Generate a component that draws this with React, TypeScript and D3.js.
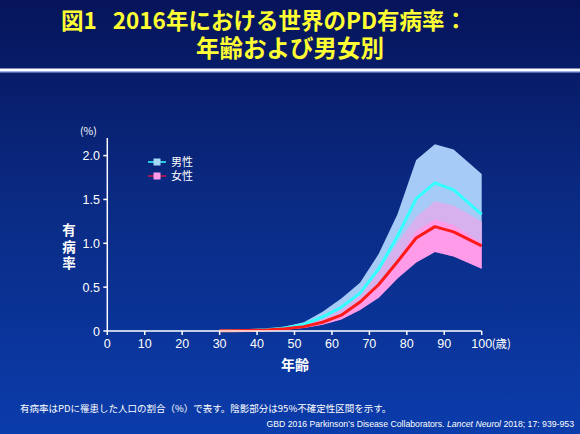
import React from "react";
import * as d3 from "d3";

const ages = [30, 32.5, 37.5, 42.5, 47.5, 52.5, 57.5, 62.5, 67.5, 72.5, 77.5, 82.5, 87.5, 92.5, 100];
const maleMean = [0.002, 0.003, 0.006, 0.014, 0.035, 0.075, 0.16, 0.27, 0.43, 0.71, 1.08, 1.51, 1.69, 1.61, 1.33];
const maleLow = [0.001, 0.002, 0.004, 0.009, 0.024, 0.05, 0.11, 0.19, 0.32, 0.53, 0.82, 1.14, 1.27, 1.21, 1.0];
const maleHigh = [0.003, 0.005, 0.009, 0.02, 0.05, 0.1, 0.22, 0.37, 0.55, 0.88, 1.33, 1.95, 2.13, 2.07, 1.79];
const femaleMean = [0.002, 0.003, 0.006, 0.012, 0.025, 0.05, 0.1, 0.18, 0.33, 0.53, 0.79, 1.06, 1.19, 1.13, 0.97];
const femaleLow = [0.001, 0.002, 0.004, 0.008, 0.017, 0.035, 0.07, 0.13, 0.24, 0.38, 0.6, 0.78, 0.9, 0.85, 0.71];
const femaleHigh = [0.003, 0.004, 0.008, 0.016, 0.034, 0.07, 0.13, 0.25, 0.44, 0.68, 1.0, 1.3, 1.48, 1.43, 1.25];

const xTicks = [0, 10, 20, 30, 40, 50, 60, 70, 80, 90, 100];
const yTicks = [0, 0.5, 1.0, 1.5, 2.0];
const yTickLabels = ["0", "0.5", "1.0", "1.5", "2.0"];
const legendLabels = ["男性", "女性"];

const titleFig = "図1";
const titleMain = "2016年における世界のPD有病率：";
const titleSub = "年齢および男女別";
const yTitleChars = ["有", "病", "率"];
const footnote = "有病率はPDに罹患した人口の割合（%）で表す。陰影部分は95%不確定性区間を示す。";

export default function App() {
  const x = d3.scaleLinear().domain([0, 100]).range([107.3, 481.7]);
  const y = d3.scaleLinear().domain([0, 2]).range([331, 155.6]);
  const idx = ages.map((_, i) => i);

  const area = (lo: number[], hi: number[]) =>
    d3.area<number>().x((i) => x(ages[i])).y0((i) => y(lo[i])).y1((i) => y(hi[i]))(idx) || "";
  const line = (v: number[]) =>
    d3.line<number>().x((i) => x(ages[i])).y((i) => y(v[i]))(idx) || "";

  const fontJP = "'Noto Sans CJK JP', 'Liberation Sans', sans-serif";
  const fontLat = "'Liberation Sans', Arial, sans-serif";

  const maleArea = area(maleLow, maleHigh);
  const femaleArea = area(femaleLow, femaleHigh);

  return (
    <svg
      width={580}
      height={434}
      style={{ position: "fixed", left: 0, top: 0, display: "block" }}
      xmlns="http://www.w3.org/2000/svg"
    >
      <defs>
        <linearGradient id="bg" x1="0" y1="0" x2="0" y2="1">
          <stop offset="0" stopColor="#06145a" />
          <stop offset="0.45" stopColor="#0a2a82" />
          <stop offset="1" stopColor="#0b3cab" />
        </linearGradient>
      </defs>
      <rect x={0} y={0} width={580} height={434} fill="url(#bg)" />

      {/* title */}
      <text
        fill="#ffff33"
        fontFamily={fontJP}
        fontWeight="bold"
        fontSize={22.5}
        textAnchor="middle"
      >
        <tspan x={264} y={29}>
          {titleFig}
          <tspan dx={16}>{titleMain}</tspan>
        </tspan>
        <tspan x={290} y={57} fontSize={23.5}>
          {titleSub}
        </tspan>
      </text>
      <rect x={0} y={68.5} width={580} height={2.5} fill="#ffffff" />
      <rect x={0} y={71} width={580} height={1.5} fill="#9fb4ee" />

      {/* bands */}
      <path d={femaleArea} fill="#ff9be8" />
      <path d={maleArea} fill="#a6cbf7" />
      <path d={femaleArea} fill="#ff9be8" opacity={0.55} />

      {/* lines */}
      <path d={line(maleMean)} fill="none" stroke="#33ffff" strokeWidth={3} strokeLinejoin="round" />
      <path d={line(femaleMean)} fill="none" stroke="#ff1a1a" strokeWidth={3} strokeLinejoin="round" />

      {/* axes */}
      <line x1={x(0)} x2={x(0)} y1={y(0)} y2={138} stroke="#ffffff" strokeWidth={1.5} />
      <line x1={x(0)} x2={x(100)} y1={y(0)} y2={y(0)} stroke="#ffffff" strokeWidth={1.5} />
      {yTicks.map((v, i) => (
        <g key={v}>
          <line x1={x(0) - 4} x2={x(0)} y1={y(v)} y2={y(v)} stroke="#ffffff" strokeWidth={1.5} />
          <text
            x={100}
            y={y(v) + 4.5}
            textAnchor="end"
            fill="#ffffff"
            fontFamily={fontLat}
            fontSize={12.5}
          >
            {yTickLabels[i]}
          </text>
        </g>
      ))}
      {xTicks.map((v) => (
        <g key={v}>
          <line x1={x(v)} x2={x(v)} y1={y(0)} y2={y(0) + 4} stroke="#ffffff" strokeWidth={1.5} />
          <text
            x={x(v)}
            y={y(0) + 17}
            textAnchor="middle"
            fill="#ffffff"
            fontFamily={fontLat}
            fontSize={12.5}
          >
            {v}
          </text>
        </g>
      ))}
      <text x={x(100) + 10} y={y(0) + 17} fill="#ffffff" fontFamily={fontJP} fontSize={11.5}>
        (歳)
      </text>
      <text x={80} y={135} fill="#ffffff" fontFamily={fontJP} fontSize={10.5}>
        (%)
      </text>

      {/* axis titles */}
      <text
        textAnchor="middle"
        fill="#ffffff"
        fontFamily={fontJP}
        fontWeight="bold"
        fontSize={13.5}
      >
        {yTitleChars.map((c, i) => (
          <tspan key={c} x={69} y={235 + i * 16.5}>
            {c}
          </tspan>
        ))}
      </text>
      <text
        x={295}
        y={370}
        textAnchor="middle"
        fill="#ffffff"
        fontFamily={fontJP}
        fontWeight="bold"
        fontSize={14}
      >
        年齢
      </text>

      {/* legend */}
      {legendLabels.map((l, i) => {
        const ly = 162 + i * 14;
        return (
          <g key={l}>
            <line
              x1={148}
              x2={166}
              y1={ly}
              y2={ly}
              stroke={i === 0 ? "#33ffff" : "#d0154a"}
              strokeWidth={1.5}
            />
            <rect
              x={153.5}
              y={ly - 3.5}
              width={7}
              height={7}
              fill={i === 0 ? "#a6d8f7" : "#ff9be8"}
            />
            <text
              x={171}
              y={ly + 4}
              fill="#ffffff"
              fontFamily={fontJP}
              fontSize={11}
            >
              {l}
            </text>
          </g>
        );
      })}

      {/* footnotes */}
      <text x={20} y={412} fill="#ffffff" fontFamily={fontJP} fontSize={9.5}>
        {footnote}
      </text>
      <text x={574} y={427} textAnchor="end" fill="#ffffff" fontFamily={fontLat} fontSize={8.7}>
        GBD 2016 Parkinson’s Disease Collaborators.{" "}
        <tspan fontStyle="italic">Lancet Neurol</tspan> 2018; 17: 939-953
      </text>
    </svg>
  );
}
